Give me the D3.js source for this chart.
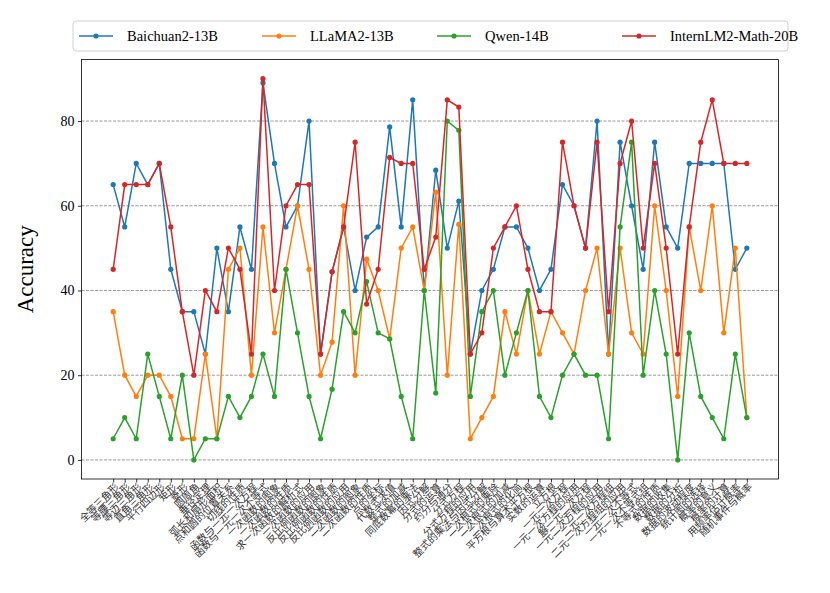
<!DOCTYPE html>
<html>
<head>
<meta charset="utf-8">
<script src="https://cdn.jsdelivr.net/npm/d3@7"></script>
<style>
  body { margin: 0; background: #fff; }
  svg { display: block; }
</style>
</head>
<body>
<div id="chart"></div>
<script>
const categories = ["全等三角形", "等腰三角形", "等边三角形", "直角三角形", "平行四边形", "矩形", "菱形",
	"圆周角", "垂径定理", "弧长和扇形面积", "点和圆的位置关系", "切线的性质", "函数与一元一次方程",
	"函数与一元一次不等式", "一次函数的图象", "一次函数的性质", "求一次函数的解析式", "一次函数的应用",
	"反比例函数的图象", "反比例函数的性质", "反比例函数的应用", "二次函数的图象", "二次函数的性质",
	"点的坐标", "代数式求值", "整式的加减", "同底数幂的乘法", "因式分解", "分式的运算", "约分与通分",
	"分式方程", "分式方程的应用", "整式的乘法与因式分解", "二次根式的乘除", "二次根式的加减",
	"二次根式的化简", "平方根与算术平方根", "实数的运算", "立方根", "一元一次方程", "一元一次方程的应用",
	"解一元二次方程", "一元二次方程的应用", "二元一次方程组", "二元一次方程组的应用", "一元一次不等式",
	"一元一次不等式组", "不等式的性质", "数据的收集", "数据的分析", "数据的波动程度", "统计图的选择",
	"概率的意义", "概率的计算", "用频率估计概率", "随机事件与概率"];

const seriesNames = ["Baichuan2-13B", "LLaMA2-13B", "Qwen-14B", "InternLM2-Math-20B"];
const seriesColors = ["#1f77b4", "#ff7f0e", "#2ca02c", "#d62728"];

const baichuan = [65, 55, 70, 65, 70, 45, 35, 35, 25, 50, 35, 55, 45, 89,
	70, 55, 60, 80, 25, 44.4, 55, 40, 52.6, 55, 78.6, 55, 85, 40, 68.4,
	50, 61.1, 25, 40, 45, 55, 55, 50, 40, 45, 65, 60, 50, 80, 25,
	75, 60, 45, 75, 55, 50, 70, 70, 70, 70, 45, 50];
const llama = [35, 20, 15, 20, 20, 15, 5, 5, 25, 5, 45, 50, 20, 55,
	30, 45, 60, 45, 20, 27.8, 60, 20, 47.4, 40, 28.6, 50, 55, 40, 63.2,
	20, 55.6, 5, 10, 15, 35, 25, 40, 25, 35, 30, 25, 40, 50, 25,
	50, 30, 25, 60, 40, 15, 55, 40, 60, 30, 50, 10];
const qwen = [5, 10, 5, 25, 15, 5, 20, 0, 5, 5, 15, 10, 15, 25,
	15, 45, 30, 15, 5, 16.7, 35, 30, 42.1, 30, 28.6, 15, 5, 40, 15.8,
	80, 77.8, 15, 35, 40, 20, 30, 40, 15, 10, 20, 25, 20, 20, 5,
	55, 75, 20, 40, 25, 0, 30, 15, 10, 5, 25, 10];
const internlm = [45, 65, 65, 65, 70, 55, 35, 20, 40, 35, 50, 45, 25, 90,
	40, 60, 65, 65, 25, 44.4, 55, 75, 36.8, 45, 71.4, 70, 70, 45, 52.6,
	85, 83.3, 25, 30, 50, 55, 60, 45, 35, 35, 75, 60, 50, 75, 35,
	70, 80, 50, 70, 50, 25, 55, 75, 85, 70, 70, 70];

const yTicks = [0, 20, 40, 60, 80];

const width = 830, height = 593;
const plot = { left: 81.5, right: 778.5, top: 59.6, bottom: 479 };
const serif = "'Liberation Serif', 'Times New Roman', serif";
const cjk = "'Noto Sans CJK SC', sans-serif";

const allSeries = [baichuan, llama, qwen, internlm];
const n = categories.length;

const x = d3.scaleLinear()
	.domain([-0.05 * (n - 1), (n - 1) * 1.05])
	.range([plot.left, plot.right]);
const y = d3.scaleLinear()
	.domain([-4.5, 94.5])
	.range([plot.bottom, plot.top]);

const svg = d3.select("#chart").append("svg")
	.attr("width", width)
	.attr("height", height);

// grid
svg.append("g")
	.selectAll("line")
	.data(yTicks)
	.join("line")
	.attr("x1", plot.left).attr("x2", plot.right)
	.attr("y1", d => y(d)).attr("y2", d => y(d))
	.attr("stroke", "#808080")
	.attr("stroke-width", 0.8)
	.attr("stroke-dasharray", "3,1.5");

// y axis
const yAxis = svg.append("g")
	.attr("transform", `translate(${plot.left},0)`)
	.call(d3.axisLeft(y).tickValues(yTicks).tickSize(3.5).tickPadding(3.5));
yAxis.select(".domain").remove();
yAxis.selectAll("text")
	.style("font-family", serif)
	.style("font-size", "14px")
	.attr("fill", "#000");
yAxis.selectAll("line").attr("stroke", "#000").attr("stroke-width", 0.8);

// x axis
const xAxis = svg.append("g")
	.attr("transform", `translate(0,${plot.bottom})`)
	.call(d3.axisBottom(x).tickValues(d3.range(n)).tickSize(3.5).tickPadding(2)
		.tickFormat(i => categories[i]));
xAxis.select(".domain").remove();
xAxis.selectAll("line").attr("stroke", "#000").attr("stroke-width", 0.8);
xAxis.selectAll("text")
	.style("font-family", cjk)
	.style("font-size", "10px")
	.attr("fill", "#333")
	.attr("text-anchor", "end")
	.attr("dy", "0.4em")
	.attr("dx", "-0.2em")
	.attr("transform", "rotate(-45)")
	.attr("y", 6)
	.attr("x", 0);

// frame
svg.append("rect")
	.attr("x", plot.left).attr("y", plot.top)
	.attr("width", plot.right - plot.left)
	.attr("height", plot.bottom - plot.top)
	.attr("fill", "none")
	.attr("stroke", "#000")
	.attr("stroke-width", 0.8);

// lines
const line = d3.line()
	.x((d, i) => x(i))
	.y(d => y(d));

allSeries.forEach((s, k) => {
	const g = svg.append("g");
	g.append("path")
		.datum(s)
		.attr("d", line)
		.attr("fill", "none")
		.attr("stroke", seriesColors[k])
		.attr("stroke-width", 1.5);
	g.selectAll("circle")
		.data(s)
		.join("circle")
		.attr("cx", (d, i) => x(i))
		.attr("cy", d => y(d))
		.attr("r", 2.6)
		.attr("fill", seriesColors[k]);
});

// y label
svg.append("text")
	.attr("transform", `translate(33,${(plot.top + plot.bottom) / 2}) rotate(-90)`)
	.attr("text-anchor", "middle")
	.style("font-family", serif)
	.style("font-size", "23px")
	.text("Accuracy");

// legend
const legend = svg.append("g");
legend.append("rect")
	.attr("x", 73).attr("y", 21)
	.attr("width", 715).attr("height", 30)
	.attr("rx", 3)
	.attr("fill", "#fff")
	.attr("stroke", "#d0d0d0")
	.attr("stroke-width", 1);
const legendX = [79, 262, 437, 622];
seriesNames.forEach((name, k) => {
	const lg = legend.append("g").attr("transform", `translate(${legendX[k]},36)`);
	lg.append("line")
		.attr("x1", 0).attr("x2", 34)
		.attr("stroke", seriesColors[k])
		.attr("stroke-width", 1.5);
	lg.append("circle").attr("cx", 17).attr("r", 2.6).attr("fill", seriesColors[k]);
	lg.append("text")
		.attr("x", 48).attr("dy", "0.35em")
		.style("font-family", serif)
		.style("font-size", "14.5px")
		.text(name);
});
</script>
</body>
</html>
